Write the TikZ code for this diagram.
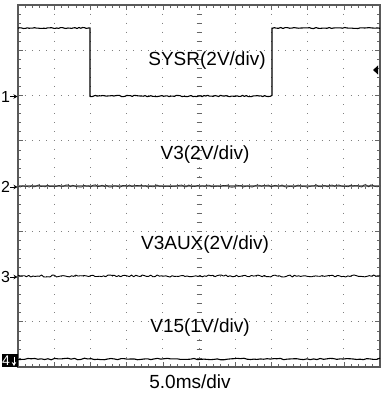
\documentclass[tikz,border=0pt]{standalone}
\usepackage{fontspec}
\setmainfont{Liberation Sans}
\usetikzlibrary{arrows.meta}
\begin{document}
\begin{tikzpicture}[x=1pt,y=-1pt,
  lbl/.style={font=\fontsize{19}{19}\selectfont, anchor=base, inner sep=0pt},
  mk/.style={font=\fontsize{16}{16}\selectfont, anchor=base, inner sep=0pt},
  mkarrow/.style={-{Stealth[length=4pt,width=4.5pt]}, line width=0.9pt},
  trace/.style={black, line width=1.1pt, line join=round},
  vdots/.style={gray, line width=1pt, dash pattern=on 1pt off 8.05pt},
  hdots/.style={gray, line width=1pt, dash pattern=on 1pt off 6.24pt},
  tick/.style={gray!80!black, line width=0.6pt},
  frame/.style={gray!70!black, line width=1.5pt},
]
\useasboundingbox (0,0) rectangle (382,396);
\fill[white] (0,0) rectangle (382,396);
% dotted grid
\foreach \i in {1,...,9}{
  \pgfmathsetmacro\xx{18+36.2*\i}
  \draw[vdots] (\xx,4.5) -- (\xx,367);
}
\foreach \j in {1,...,7}{
  \pgfmathsetmacro\yy{5+45.25*\j}
  \draw[hdots] (17.5,\yy) -- (380,\yy);
}
% ticks on centre lines and frame
\foreach \k in {1,...,49}{
  \pgfmathsetmacro\xx{18+7.24*\k}
  \pgfmathsetmacro\tl{mod(\k,5)==0 ? 5 : 3}
  \draw[tick] (\xx,183.5) -- (\xx,188.5);
  \draw[tick] (\xx,5) -- (\xx,5+\tl);
  \draw[tick] (\xx,367) -- (\xx,367-\tl);
}
\foreach \k in {1,...,39}{
  \pgfmathsetmacro\yy{5+9.05*\k}
  \pgfmathsetmacro\tl{mod(\k,5)==0 ? 5 : 3}
  \draw[tick] (196.5,\yy) -- (201.5,\yy);
  \draw[tick] (18,\yy) -- (18+\tl,\yy);
  \draw[tick] (380,\yy) -- (380-\tl,\yy);
}
% frame
\draw[frame] (18,5) rectangle (380,367);
% traces
\pgfmathsetseed{7}
\draw[trace] plot[domain=18:90,samples=40] (\x,{28+0.5*rand}) -- (90,96)
  -- plot[domain=90:272,samples=100] (\x,{96+0.7*rand}) -- (272,28)
  -- plot[domain=272:380,samples=50] (\x,{28+0.5*rand});
\draw[gray, line width=2pt] (18,186) -- (380,186);
\draw[black!85, line width=0.6pt, line join=round] plot[domain=18:380,samples=160] (\x,{186+1.3*rand});
\draw[trace, line width=0.9pt] plot[domain=18:380,samples=170] (\x,{276+1.0*rand});
\draw[trace] plot[domain=18:380,samples=110] (\x,{359+0.8*rand});
% trigger marker
\fill[black] (373,70) -- (378,65.5) -- (378,74.5) -- cycle;
% channel markers
\node[mk] (m1) at (5.5,102) {1};
\coordinate (m1t) at (17.5,96.5);
\draw[mkarrow] (m1.east |- m1t) -- (m1t);
\node[mk] (m2) at (5.5,192.5) {2};
\coordinate (m2t) at (17.5,187);
\draw[mkarrow] (m2.east |- m2t) -- (m2t);
\node[mk] (m3) at (5.5,282.5) {3};
\coordinate (m3t) at (17.5,277);
\draw[mkarrow] (m3.east |- m3t) -- (m3t);
\fill[black] (1.5,354) rectangle (17.5,367);
\node[mk, white, font=\fontsize{14}{14}\selectfont] (m4) at (6,365.5) {4};
\coordinate (m4t) at (14,366);
\draw[white, mkarrow] (14,356.5) -- (m4t);
% labels
\node[lbl] (sysr) at (207,66) {SYSR(2V/div)};
\node[lbl] (v3) at (205,159) {V3(2V/div)};
\node[lbl] (v3aux) at (205,249) {V3AUX(2V/div)};
\node[lbl] (v15) at (200,332) {V15(1V/div)};
\node[lbl] (tb) at (190,388) {5.0ms/div};
\end{tikzpicture}
\end{document}
